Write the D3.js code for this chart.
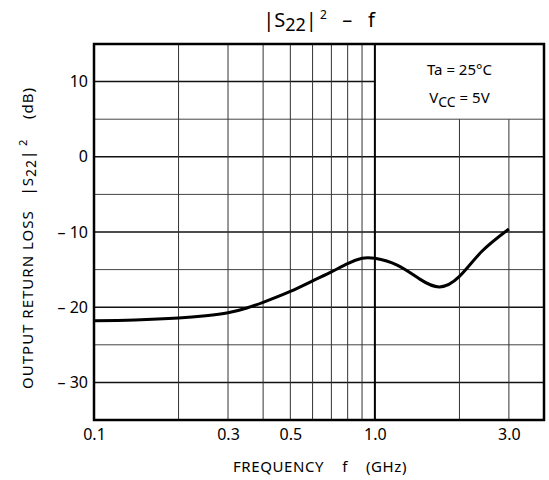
<!DOCTYPE html>
<html>
<head>
<meta charset="utf-8">
<script src="https://cdn.jsdelivr.net/npm/d3@7"></script>
<style>
	body { margin: 0; background: #fff; }
	svg text { font-family: "Noto Sans", "DejaVu Sans", sans-serif; fill: #000; }
</style>
</head>
<body>
<svg id="chart" width="549" height="480"></svg>
<script>
// curve
var freqs = [0.1, 0.14, 0.2, 0.25, 0.3, 0.35, 0.4, 0.5, 0.6, 0.7, 0.8, 0.9, 1.0, 1.2, 1.45, 1.7, 2.0, 2.4, 3.0];
var returnLoss = [-21.8, -21.7, -21.45, -21.15, -20.75, -20.1, -19.35, -17.9, -16.5, -15.3, -14.2, -13.5, -13.5, -14.4, -16.3, -17.3, -15.9, -12.6, -9.6];

var freqGrid = [0.2, 0.3, 0.4, 0.5, 0.6, 0.7, 0.8, 0.9, 1.0, 2.0, 3.0];
var freqLabels = [0.1, 0.3, 0.5, 1.0, 3.0];
var dbGrid = [10, 5, 0, -5, -10, -15, -20, -25, -30];
var dbLabels = [10, 0, -10, -20, -30];

var plotLeft = 94, plotRight = 544, plotTop = 44, plotBottom = 420;

var svg = d3.select("#chart");

var x = d3.scaleLog().domain([0.1, 4]).range([plotLeft, plotRight]);
var y = d3.scaleLinear().domain([-35, 15]).range([plotBottom, plotTop]);

// legend box sits in the top right corner, above the 5 dB line
var boxLeft = x(1.0), boxBottom = y(5);

var grid = svg.append("g");

grid.selectAll("line.h").data(dbGrid).enter().append("line")
	.attr("class", "h")
	.attr("x1", plotLeft)
	.attr("x2", function(d) { return d == 10 ? boxLeft : plotRight; })
	.attr("y1", function(d) { return y(d); })
	.attr("y2", function(d) { return y(d); })
	.attr("stroke", function(d) { return d % 10 == 0 ? "#111" : "#444"; })
	.attr("stroke-width", function(d) { return d % 10 == 0 ? 1.5 : 1; });

grid.selectAll("line.v").data(freqGrid).enter().append("line")
	.attr("class", "v")
	.attr("x1", function(d) { return x(d); })
	.attr("x2", function(d) { return x(d); })
	.attr("y1", function(d) { return d > 1 ? boxBottom : plotTop; })
	.attr("y2", plotBottom)
	.attr("stroke", function(d) { return d == 1 ? "#000" : "#333"; })
	.attr("stroke-width", function(d) { return d == 1 ? 2 : 1; });

svg.append("rect")
	.attr("x", plotLeft).attr("y", plotTop)
	.attr("width", plotRight - plotLeft).attr("height", plotBottom - plotTop)
	.attr("fill", "none").attr("stroke", "#000").attr("stroke-width", 2.5);

var line = d3.line()
	.x(function(d, i) { return x(freqs[i]); })
	.y(function(d) { return y(d); })
	.curve(d3.curveNatural);

svg.append("path")
	.datum(returnLoss)
	.attr("d", line)
	.attr("fill", "none")
	.attr("stroke", "#000")
	.attr("stroke-width", 3);

// axes only for the labels
var xAxis = svg.append("g")
	.attr("transform", "translate(0," + plotBottom + ")")
	.call(d3.axisBottom(x).tickValues(freqLabels).tickSize(0).tickPadding(9)
		.tickFormat(d3.format(".1f")));
xAxis.select(".domain").remove();
xAxis.selectAll("text").attr("font-size", 16).attr("font-family", null);

var yAxis = svg.append("g")
	.attr("transform", "translate(" + plotLeft + ",0)")
	.call(d3.axisLeft(y).tickValues(dbLabels).tickSize(0).tickPadding(6)
		.tickFormat(function(d) { return d < 0 ? "\u2013 " + (-d) : d; }));
yAxis.select(".domain").remove();
yAxis.selectAll("text").attr("font-size", 16).attr("font-family", null);

// title
var title = svg.append("text")
	.attr("x", (plotLeft + plotRight) / 2)
	.attr("y", 27)
	.attr("text-anchor", "middle")
	.attr("font-size", 20)
	.attr("xml:space", "preserve");
title.append("tspan").text("|S");
title.append("tspan").attr("font-size", 18).attr("dy", 4).text("22");
title.append("tspan").attr("dy", -4).text("|");
title.append("tspan").attr("font-size", 12).attr("dy", -8).text(" 2");
title.append("tspan").attr("dy", 8).text("   \u2013   f");

// x axis title
svg.append("text")
	.attr("x", 320)
	.attr("y", 472)
	.attr("text-anchor", "middle")
	.attr("font-size", 15)
	.attr("letter-spacing", 0.6)
	.attr("xml:space", "preserve")
	.text("FREQUENCY    f    (GHz)");

// y axis title
var yTitle = svg.append("text")
	.attr("transform", "translate(33,238) rotate(-90)")
	.attr("text-anchor", "middle")
	.attr("font-size", 15)
	.attr("letter-spacing", 1)
	.attr("xml:space", "preserve");
yTitle.append("tspan").text("OUTPUT RETURN LOSS   |S");
yTitle.append("tspan").attr("font-size", 14).attr("dy", 3).text("22");
yTitle.append("tspan").attr("dy", -3).text("|");
yTitle.append("tspan").attr("font-size", 11).attr("dy", -6).text(" 2");
yTitle.append("tspan").attr("dy", 6).text("    (dB)");

// conditions
var cx = (boxLeft + plotRight) / 2;
svg.append("text")
	.attr("x", cx).attr("y", 75)
	.attr("text-anchor", "middle")
	.attr("font-size", 15)
	.text("Ta = 25\u00B0C");
var vcc = svg.append("text")
	.attr("x", cx).attr("y", 103)
	.attr("text-anchor", "middle")
	.attr("font-size", 15);
vcc.append("tspan").text("V");
vcc.append("tspan").attr("font-size", 14).attr("dy", 4).text("CC");
vcc.append("tspan").attr("dy", -4).text(" = 5V");
</script>
</body>
</html>
